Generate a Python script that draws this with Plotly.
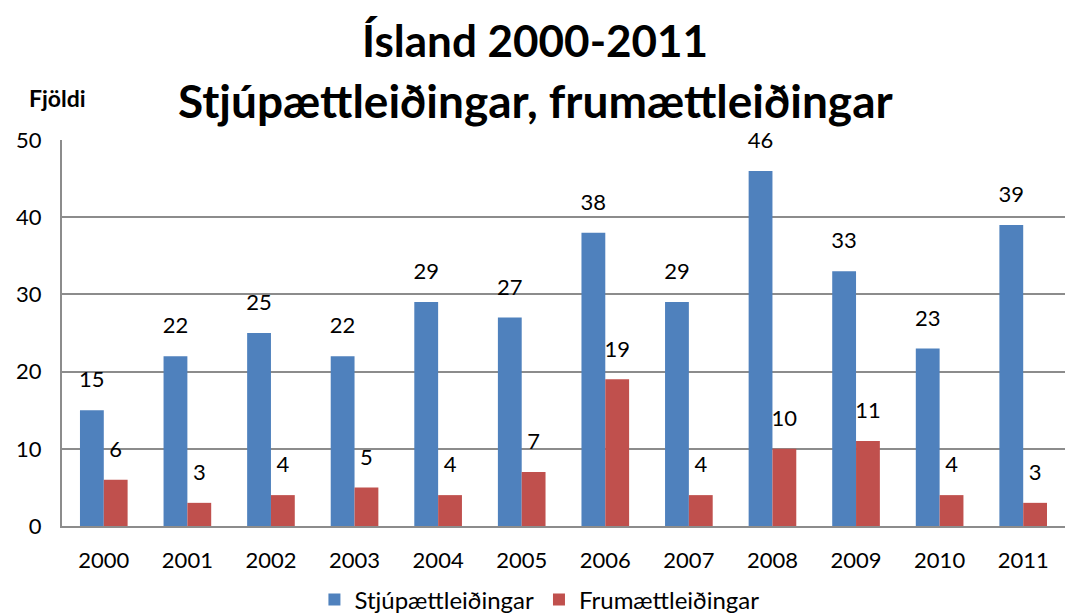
import plotly.graph_objects as go

years = ["2000", "2001", "2002", "2003", "2004", "2005", "2006", "2007", "2008", "2009", "2010", "2011"]
stjup = [15, 22, 25, 22, 29, 27, 38, 29, 46, 33, 23, 39]
frum = [6, 3, 4, 5, 4, 7, 19, 4, 10, 11, 4, 3]
series_names = ["Stjúpættleiðingar", "Frumættleiðingar"]
colors = ["#4F81BD", "#C0504D"]
title_lines = ["Ísland 2000-2011", "Stjúpættleiðingar, frumættleiðingar"]

FONT = "Lato, 'Open Sans', sans-serif"

fig = go.Figure()
for i, (name, vals, col) in enumerate(zip(series_names, [stjup, frum], colors)):
    fig.add_trace(go.Bar(
        x=years, y=vals, name=name, marker=dict(color=col, line=dict(width=0)),
        offsetgroup=str(i), alignmentgroup="a",
    ))
for i, vals in enumerate([stjup, frum]):
    fig.add_trace(go.Scatter(
        x=years, y=vals, mode="markers+text", text=[str(v) for v in vals],
        textposition="top center", textfont=dict(size=22, color="#000", family=FONT),
        marker=dict(size=26, opacity=0), offsetgroup=str(i), alignmentgroup="a",
        showlegend=False, hoverinfo="skip", cliponaxis=False,
    ))

fig.update_layout(
    width=1065, height=615,
    paper_bgcolor="white", plot_bgcolor="white",
    margin=dict(l=62, r=0, t=140, b=89, autoexpand=False),
    barmode="group", scattermode="group", bargap=0.43, bargroupgap=0,
    font=dict(family=FONT, size=22, color="#000"),
    showlegend=True,
    legend=dict(orientation="h", x=0.476, xanchor="center", y=(526 - 600) / 386, yanchor="middle",
                font=dict(size=24), traceorder="normal", itemwidth=30),
)
fig.update_yaxes(range=[0, 50], dtick=10, showgrid=True, gridcolor="#8c8c8c", gridwidth=1.5,
                 showline=True, linecolor="#8c8c8c", linewidth=2, ticks="",
                 ticklabelstandoff=14, zeroline=False, tickfont=dict(size=22), automargin=False)
fig.update_xaxes(showline=True, linecolor="#8c8c8c", linewidth=2, ticks="",
                 ticklabelstandoff=14, tickfont=dict(size=22), automargin=False)
for line, ypx, fs in zip(title_lines, [40, 100], [44, 46]):
    fig.add_annotation(text=f"<b>{line}</b>", xref="paper", yref="paper",
                       x=0.472, y=1 + (140 - ypx) / 386, xanchor="center", yanchor="middle",
                       showarrow=False, font=dict(size=fs, family=FONT, color="#000"))
fig.add_annotation(text="<b>Fjöldi</b>", xref="paper", yref="paper", x=-0.035, y=1 + (140 - 98) / 386,
                   xanchor="left", yanchor="middle", showarrow=False,
                   font=dict(size=23, family=FONT, color="#000"))

fig.write_html("out.html", config={"displayModeBar": False},
               post_script="document.body.style.margin='0';document.body.style.overflow='hidden';")
